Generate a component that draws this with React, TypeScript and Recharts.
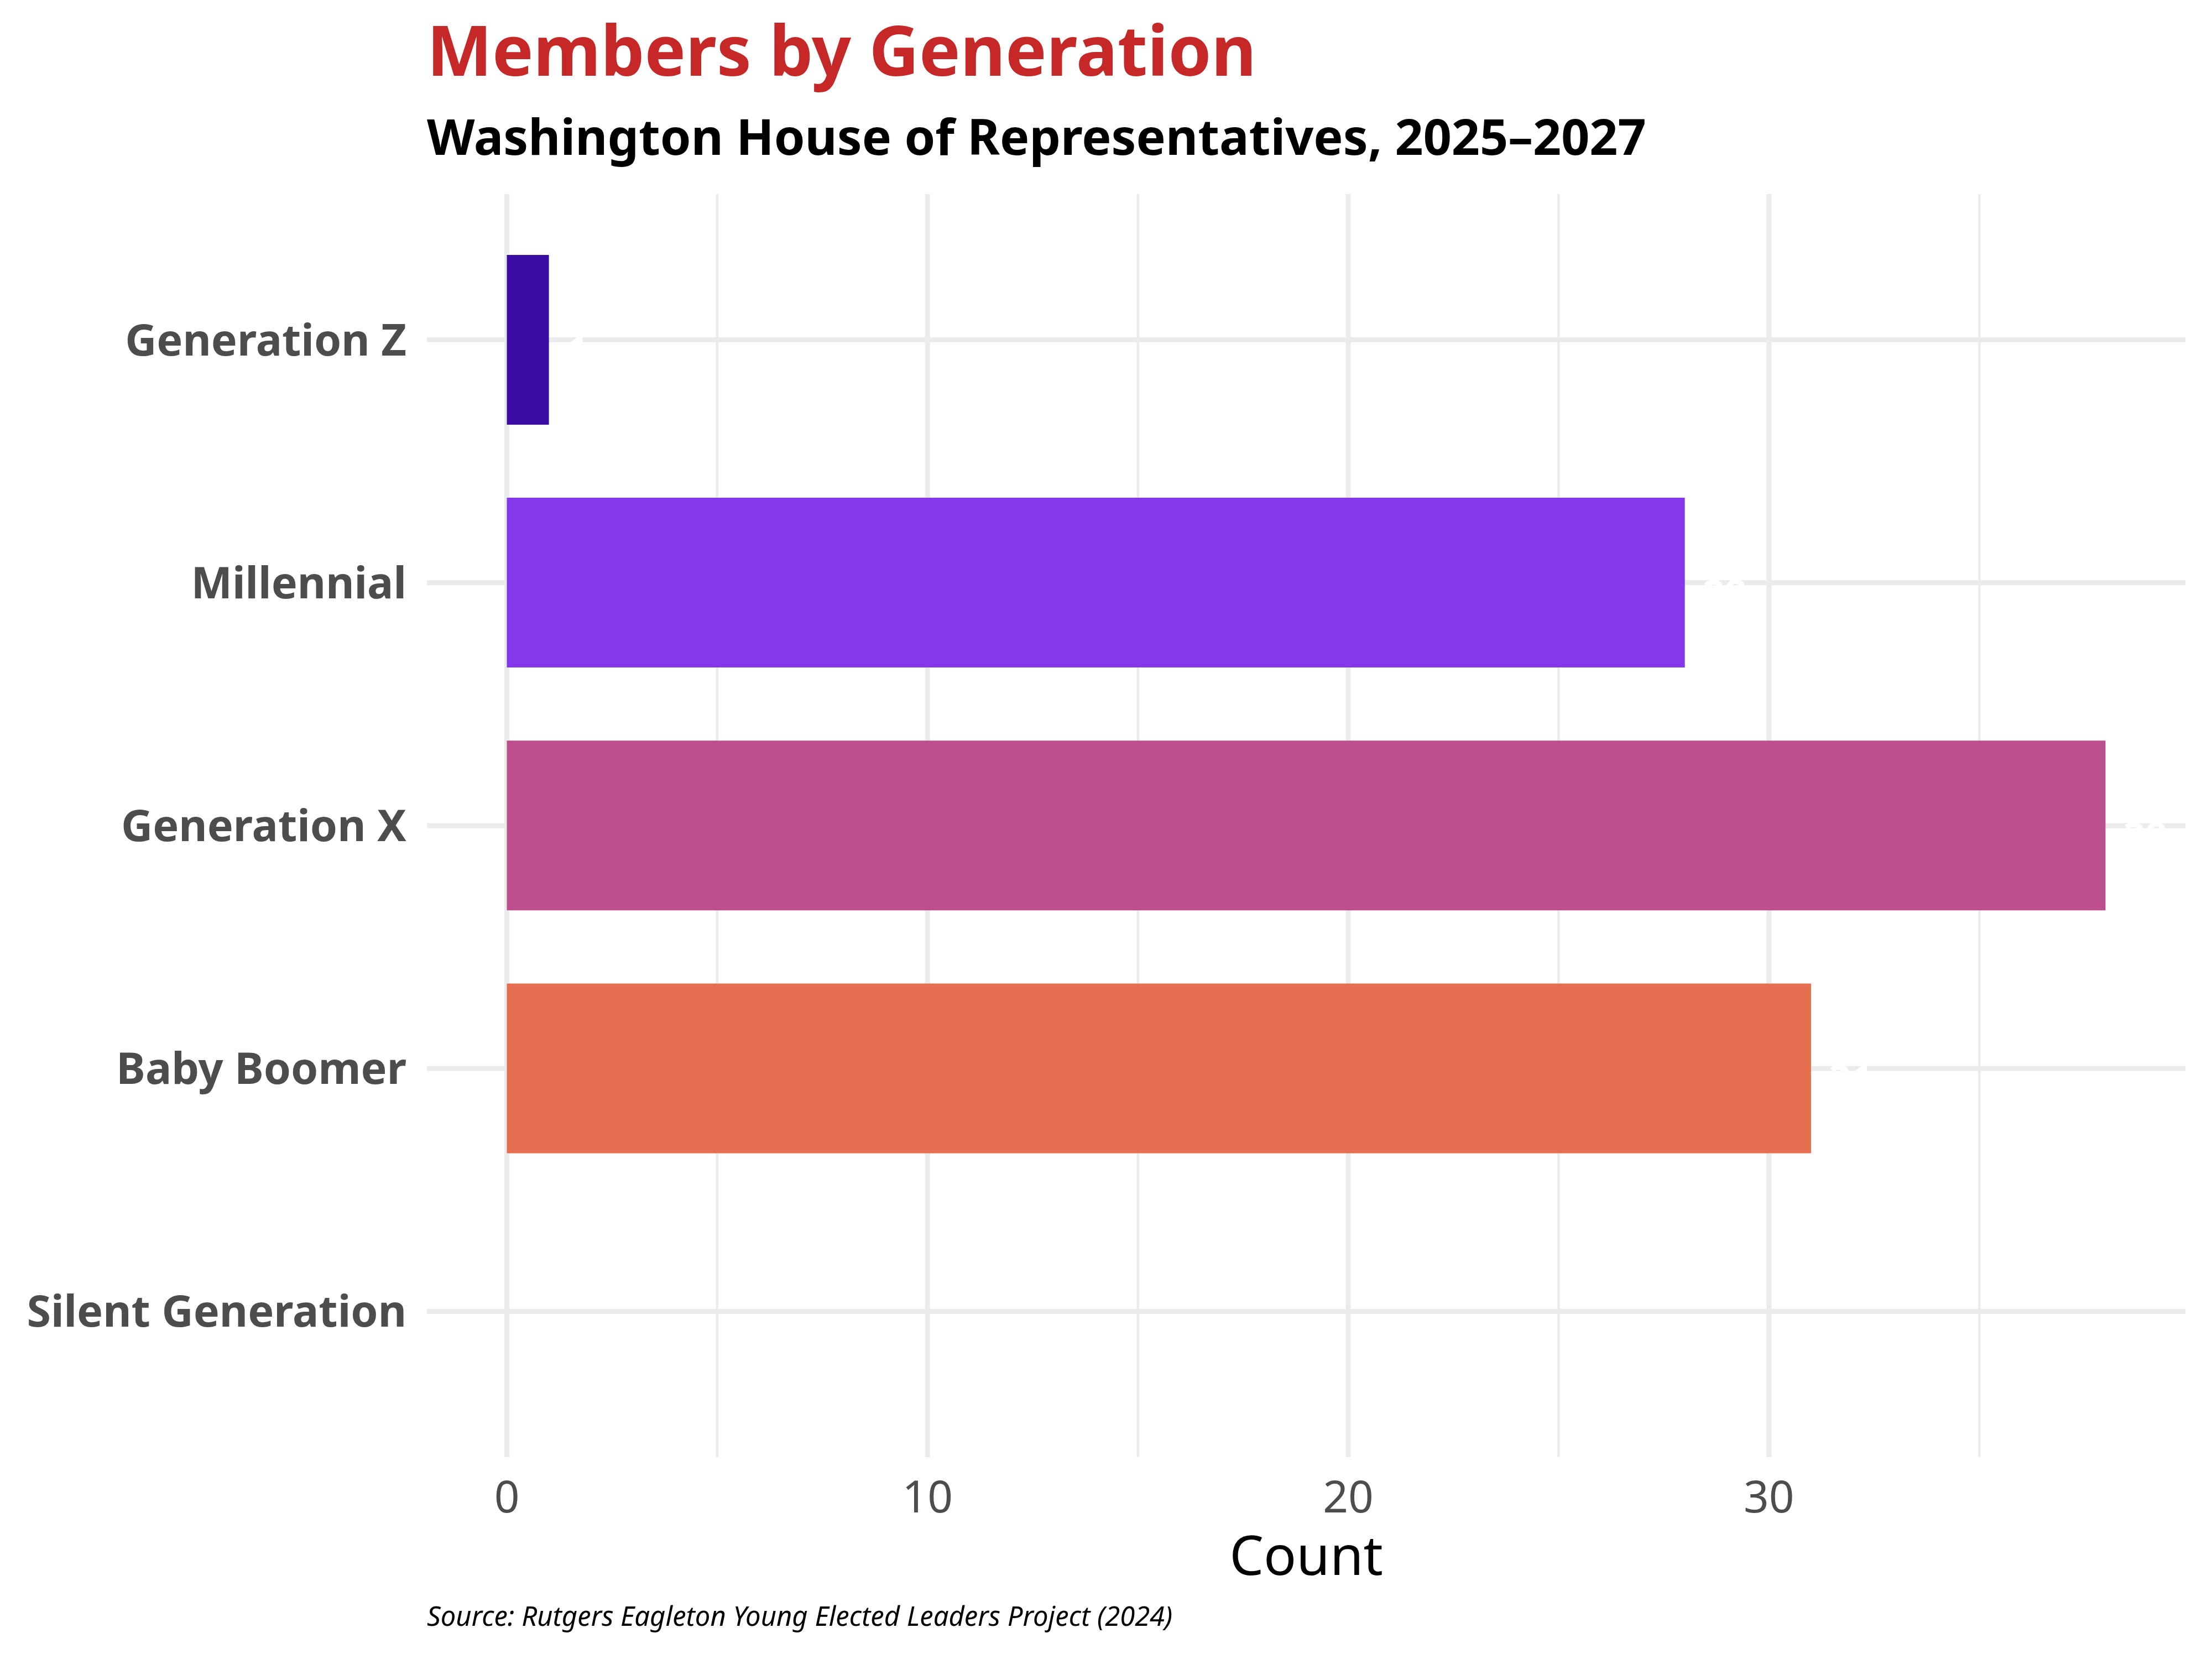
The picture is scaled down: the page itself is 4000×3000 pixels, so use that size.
import { BarChart, Bar, XAxis, YAxis, CartesianGrid, Cell, LabelList } from 'recharts';

const generations = ['Generation Z', 'Millennial', 'Generation X', 'Baby Boomer', 'Silent Generation'];
const counts = [1, 28, 38, 31, 0];
const barColors = ['#3A0CA3', '#8338EC', '#BE4F8F', '#E76F51', '#F4A261'];
const majorTicks = [0, 10, 20, 30];
const minorTicks = [5, 15, 25, 35];

const font = '"Noto Sans", "Open Sans", sans-serif';

const data = generations.map((g, i) => ({ generation: g, count: counts[i] }));

// white count labels just past the bar end (only visible over gridlines)
const renderLabel = (props: any) => {
  const { x, y, width, height, value } = props;
  if (!value) return null;
  return (
    <text
      x={Number(x) + Number(width) + 32}
      y={Number(y) + Number(height) / 2 + 45}
      fill="#FFFFFF"
      fontSize={70}
      fontWeight={700}
      fontFamily={font}
      textAnchor="start"
    >
      {value}
    </text>
  );
};

export default function App() {
  return (
    <div style={{ position: 'absolute', left: 0, top: 0, width: 4000, height: 3000, background: '#fff' }}>
      <BarChart
        width={4000}
        height={3000}
        data={data}
        layout="vertical"
        margin={{ top: 351, right: 48, bottom: 135, left: 72 }}
        barCategoryGap="15%"
        style={{ fontFamily: font }}
      >
        <CartesianGrid stroke="#EBEBEB" strokeWidth={9} syncWithTicks />
        <CartesianGrid xAxisId="minor" stroke="#EBEBEB" strokeWidth={4.5} horizontal={false} syncWithTicks />
        <XAxis
          type="number"
          dataKey="count"
          domain={[-1.9, 39.9]}
          ticks={majorTicks}
          allowDataOverflow
          axisLine={false}
          tickLine={false}
          tickSize={0}
          tickMargin={43}
          tick={{ fill: '#4D4D4D', fontSize: 80, fontFamily: font }}
          height={230}
          label={{ value: 'Count', position: 'insideBottom', offset: 17, fill: '#000', fontSize: 98, fontFamily: font }}
        />
        <XAxis
          xAxisId="minor"
          type="number"
          domain={[-1.9, 39.9]}
          ticks={minorTicks}
          allowDataOverflow
          hide
        />
        <YAxis
          type="category"
          dataKey="generation"
          width={700}
          interval={0}
          axisLine={false}
          tickLine={false}
          tickSize={0}
          tickMargin={37}
          padding={{ top: 44, bottom: 44 }}
          tick={{ fill: '#4D4D4D', fontSize: 79, fontWeight: 700, fontFamily: font }}
        />
        <Bar dataKey="count" isAnimationActive={false}>
          {data.map((d, i) => (
            <Cell key={d.generation} fill={barColors[i]} />
          ))}
          <LabelList dataKey="count" content={renderLabel} />
        </Bar>
      </BarChart>
      <svg
        width={4000}
        height={3000}
        style={{ position: 'absolute', left: 0, top: 0, pointerEvents: 'none' }}
      >
        <text x={772} y={137} fill="#C62828" fontSize={125} fontWeight={700} fontFamily={font}>
          Members by Generation
        </text>
        <text x={772} y={280} fill="#000000" fontSize={89.5} fontWeight={700} fontFamily={font}>
          Washington House of Representatives, 2025–2027
        </text>
        <text x={772} y={2940} fill="#000000" fontSize={49} fontStyle="italic" fontFamily={font}>
          Source: Rutgers Eagleton Young Elected Leaders Project (2024)
        </text>
      </svg>
    </div>
  );
}
